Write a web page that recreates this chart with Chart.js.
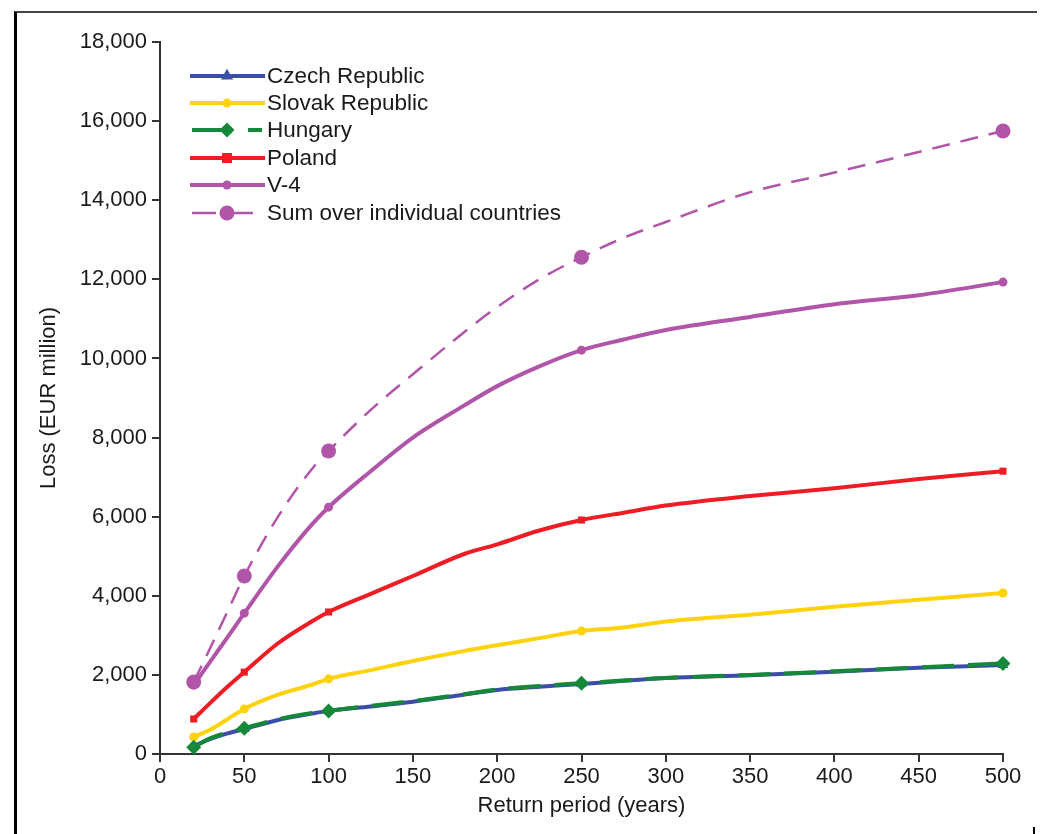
<!DOCTYPE html>
<html>
<head>
<meta charset="utf-8">
<script src="https://cdn.jsdelivr.net/npm/chart.js@4.4.1/dist/chart.umd.min.js"></script>
<style>
  body { margin: 0; background: #fff; }
  #wrap { position: relative; width: 1041px; height: 834px; }
  #frame { position: absolute; left: 14px; top: 11px; width: 1020px; height: 830px;
           border-left: 3px solid #000; border-top: 2px solid #444; }
  #tick { position: absolute; left: 1033px; top: 827px; width: 2px; height: 7px; background: #000; }
  canvas { position: absolute; left: 0; top: 0; }
</style>
</head>
<body>
<div id="wrap">
  <div id="frame"></div>
  <div id="tick"></div>
  <canvas id="chart" width="1041" height="834"></canvas>
</div>
<script>
const returnPeriods = [20, 30, 40, 50, 70, 90, 100, 125, 150, 180, 200, 225, 250, 275, 300, 350, 400, 450, 500];
const markedPeriods = [20, 50, 100, 250, 500];

const czech   = [200, 380, 520, 630, 860, 1020, 1090, 1200, 1320, 1500, 1620, 1700, 1770, 1850, 1920, 1990, 2080, 2180, 2250];
const slovak  = [430, 620, 880, 1140, 1500, 1750, 1900, 2120, 2350, 2600, 2750, 2930, 3110, 3200, 3350, 3520, 3720, 3900, 4070];
const hungary = [170, 400, 540, 650, 880, 1040, 1090, 1220, 1340, 1510, 1630, 1720, 1790, 1860, 1920, 2000, 2090, 2190, 2290];
const poland  = [885, 1300, 1700, 2070, 2800, 3350, 3590, 4050, 4500, 5050, 5300, 5650, 5915, 6100, 6280, 6520, 6720, 6950, 7150];
const v4      = [1745, 2350, 2950, 3560, 4750, 5800, 6240, 7150, 8000, 8800, 9300, 9800, 10210, 10480, 10720, 11050, 11370, 11600, 11930];
const sumOver = [1820, 2700, 3600, 4500, 6000, 7200, 7660, 8700, 9600, 10650, 11300, 12000, 12560, 13050, 13450, 14200, 14700, 15220, 15750];

const seriesNames = ['Czech Republic', 'Slovak Republic', 'Hungary', 'Poland', 'V-4', 'Sum over individual countries'];

const FONT = "'Liberation Sans', Arial, sans-serif";
const TEXT = '#1a1a1a';
const AXIS = '#333';

const toPoints = vals => vals.map((v, i) => ({ x: returnPeriods[i], y: v }));
const markerRadius = r => ctx => markedPeriods.includes(returnPeriods[ctx.dataIndex]) ? r : 0;

const styles = [
  { color: '#3a4ea6', marker: 'triangle', r: 6, width: 4, dash: [], order: 3 },
  { color: '#ffd20f', marker: 'circle', r: 4.5, width: 4, dash: [], order: 2 },
  { color: '#16883a', marker: 'rectRot', r: 7.5, width: 4, dash: [32, 14], order: 0 },
  { color: '#ee1d25', marker: 'rect', r: 5, width: 4, dash: [], order: 1 },
  { color: '#b155a9', marker: 'circle', r: 4.5, width: 4, dash: [], order: 4 },
  { color: '#b155a9', marker: 'circle', r: 7.5, width: 2.5, dash: [18, 11], order: 5 }
];
const values = [czech, slovak, hungary, poland, v4, sumOver];

const datasets = values.map((vals, i) => ({
  label: seriesNames[i],
  data: toPoints(vals),
  borderColor: styles[i].color,
  backgroundColor: styles[i].color,
  borderWidth: styles[i].width,
  borderDash: styles[i].dash,
  pointStyle: styles[i].marker,
  pointRadius: markerRadius(styles[i].r),
  pointBorderWidth: 0,
  pointHoverRadius: 0,
  cubicInterpolationMode: 'monotone',
  clip: false,
  order: styles[i].order
}));

// draws one legend marker
function marker(ctx, style, x, y, r) {
  ctx.beginPath();
  if (style === 'circle') {
    ctx.arc(x, y, r, 0, Math.PI * 2);
  } else if (style === 'rect') {
    ctx.rect(x - r, y - r, 2 * r, 2 * r);
  } else if (style === 'rectRot') {
    ctx.moveTo(x, y - r); ctx.lineTo(x + r, y); ctx.lineTo(x, y + r); ctx.lineTo(x - r, y);
  } else if (style === 'triangle') {
    ctx.moveTo(x, y - r * 1.2); ctx.lineTo(x + r, y + r * 0.6); ctx.lineTo(x - r, y + r * 0.6);
  }
  ctx.closePath();
  ctx.fill();
}

const legendInside = {
  id: 'legendInside',
  afterDraw(chart) {
    const ctx = chart.ctx;
    const rowY = [76, 103, 130, 158, 185, 213];
    ctx.save();
    seriesNames.forEach((name, i) => {
      const s = styles[i], y = rowY[i];
      ctx.strokeStyle = s.color;
      ctx.fillStyle = s.color;
      ctx.lineWidth = s.width;
      if (i === 2) {
        ctx.beginPath(); ctx.moveTo(192, y); ctx.lineTo(228, y); ctx.stroke();
        ctx.beginPath(); ctx.moveTo(248, y); ctx.lineTo(262, y); ctx.stroke();
      } else if (i === 5) {
        ctx.beginPath(); ctx.moveTo(192, y); ctx.lineTo(216, y); ctx.stroke();
        ctx.beginPath(); ctx.moveTo(234, y); ctx.lineTo(253, y); ctx.stroke();
      } else {
        ctx.beginPath(); ctx.moveTo(190, y); ctx.lineTo(265, y); ctx.stroke();
      }
      marker(ctx, s.marker, 227, y, s.r);
      ctx.fillStyle = TEXT;
      ctx.font = '22.5px ' + FONT;
      ctx.textBaseline = 'middle';
      ctx.textAlign = 'left';
      ctx.fillText(name, 267, y + 1);
    });
    ctx.restore();
  }
};

new Chart(document.getElementById('chart'), {
  type: 'line',
  data: { datasets },
  plugins: [legendInside],
  options: {
    responsive: false,
    animation: false,
    layout: { padding: { left: 32, top: 42, right: 38, bottom: 11 } },
    plugins: { legend: { display: false }, tooltip: { enabled: false } },
    scales: {
      x: {
        type: 'linear',
        min: 0, max: 500,
        afterFit: s => { s.height = 69; },
        ticks: { stepSize: 50, color: TEXT, font: { family: FONT, size: 22 }, padding: 2, maxRotation: 0 },
        grid: { drawOnChartArea: false, drawTicks: true, tickLength: 8, color: AXIS, lineWidth: 2 },
        border: { color: AXIS, width: 2 },
        title: { display: true, text: 'Return period (years)', color: TEXT, font: { family: FONT, size: 22 } }
      },
      y: {
        min: 0, max: 18000,
        afterFit: s => { s.width = 128; },
        ticks: { stepSize: 2000, color: TEXT, font: { family: FONT, size: 22 }, padding: 5,
                 callback: v => v.toLocaleString('en-US') },
        grid: { drawOnChartArea: false, drawTicks: true, tickLength: 8, color: AXIS, lineWidth: 2 },
        border: { color: AXIS, width: 2 },
        title: { display: true, text: 'Loss (EUR million)', color: TEXT, font: { family: FONT, size: 22 } }
      }
    }
  }
});
</script>
</body>
</html>
